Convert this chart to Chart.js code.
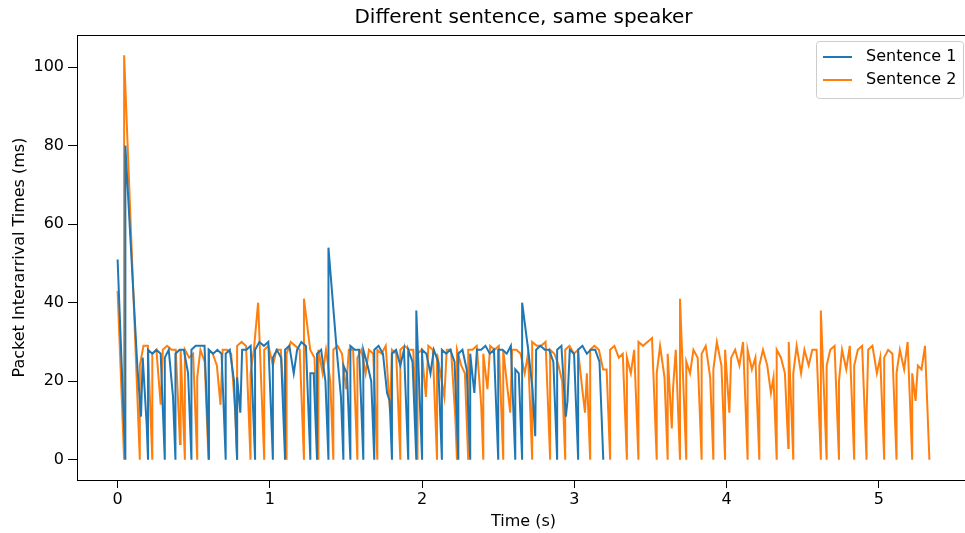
<!DOCTYPE html>
<html>
<head>
<meta charset="utf-8">
<script src="https://cdn.jsdelivr.net/npm/chart.js@4.4.1/dist/chart.umd.min.js"></script>
<style>
  html, body { margin: 0; padding: 0; background: #fff; overflow: hidden; width: 965px; height: 533px; }
  #wrap { width: 975px; height: 533px; }
</style>
</head>
<body>
<div id="wrap"><canvas id="chart" width="975" height="533"></canvas></div>
<script>
// --- textos ---
const chartTitle = 'Different sentence, same speaker';
const xAxisLabel = 'Time (s)';
const yAxisLabel = 'Packet Interarrival Times (ms)';
const seriesNames = ['Sentence 1', 'Sentence 2'];
const seriesColors = ['#1f77b4', '#ff7f0e'];

// --- ticks ---
const xTicks = [0, 1, 2, 3, 4, 5];
const yTicks = [0, 20, 40, 60, 80, 100];

// --- interarrival times (ms), one per packet ---
const sentence1 = [
  51, 0, 80,
  23, 11, 26, 9, 0,
  28, 27, 28, 27, 0,
  26, 28, 16, 0,
  27, 28, 28, 22, 0,
  28, 29, 29, 29, 0,
  28, 27, 28, 27, 0,
  27, 28, 20, 0,
  21, 12, 28, 28, 29, 0,
  28, 30, 29, 30, 0,
  26, 28, 26, 0,
  28, 29, 22, 28, 30, 29, 0,
  22, 22, 0,
  27, 28, 20, 0,
  54, 28, 16, 0,
  24, 22, 0,
  29, 28, 28, 0,
  28, 24, 20, 0,
  28, 29, 27, 17, 15, 0,
  27, 28, 24, 28, 0,
  28, 25, 0,
  38, 0,
  28, 27, 22, 28, 25, 0,
  28, 27, 28, 25, 0,
  27, 28, 23, 0,
  27, 17, 28, 28, 29, 27, 28, 0,
  28, 28, 27, 29, 0,
  23, 22, 0,
  40, 28, 18, 6, 28, 29, 28, 28, 25, 0,
  28, 29, 11, 15, 28, 27, 0,
  28, 29, 27, 28, 28, 25, 0
];

const sentence2 = [
  43, 0, 103, 0,
  24, 29, 29, 0,
  27, 28, 14, 28, 29, 28, 28, 4, 28, 0,
  28, 26, 27, 0,
  21, 28, 25, 0,
  28, 27, 24, 14, 28, 28, 27, 12, 0,
  29, 30, 29, 0,
  22, 28, 40, 0,
  28, 29, 24, 28, 28, 10, 0,
  27, 30, 29, 28, 0,
  41, 28, 26, 0,
  28, 22, 28, 20, 0,
  28, 29, 27, 18, 28, 28, 0,
  26, 28, 22, 28, 27, 0,
  28, 27, 29, 12, 28, 27, 0,
  28, 29, 28, 28, 0,
  27, 28, 16, 29, 28, 0,
  27, 21, 16, 28, 28, 11, 0,
  28, 24, 22, 0,
  28, 28, 29, 14, 0,
  27, 18, 29, 28, 29, 0,
  28, 18, 12, 28, 28, 27, 22, 27, 0,
  30, 29, 29, 30, 0,
  28, 27, 24, 20, 0,
  28, 29, 27, 28, 18, 12, 22, 0,
  28, 29, 28, 23, 23, 0,
  28, 29, 26, 27, 0,
  26, 22, 28, 0,
  30, 29, 30, 31, 0,
  22, 29, 21, 0,
  27, 8, 18, 28, 0,
  41, 0,
  25, 22, 28, 26, 0,
  27, 29, 21, 0,
  23, 30, 24, 0,
  28, 12, 26, 28, 24, 30, 0,
  28, 23, 26, 0,
  24, 28, 24, 17, 21, 0,
  28, 26, 22, 3, 30, 0,
  22, 29, 22, 28, 24, 28, 28, 0,
  38, 0,
  24, 28, 29, 0,
  20, 28, 23, 29, 0,
  24, 28, 29, 0,
  11, 28, 29, 22, 26, 0,
  26, 28, 27, 0,
  22, 28, 23, 30, 0,
  22, 15, 24, 23, 29, 0
];

// cada paquete se dibuja en su tiempo de llegada (suma de los intervalos anteriores)
function toPoints(gaps) {
  let t = 0;
  return gaps.map(g => {
    const p = { x: t / 1000, y: g };
    t += g;
    return p;
  });
}

const series = [sentence1, sentence2].map(toPoints);

// limites con 5% de margen, como matplotlib
const allX = series.flat().map(p => p.x);
const allY = series.flat().map(p => p.y);
const xMin = Math.min(...allX), xMax = Math.max(...allX);
const yMin = Math.min(...allY), yMax = Math.max(...allY);
const xPad = (xMax - xMin) * 0.05, yPad = (yMax - yMin) * 0.05;

const FONT = "'DejaVu Sans', sans-serif";

// marco, titulo y leyenda dentro del area
const mplDecor = {
  id: 'mplDecor',
  afterDatasetsDraw(chart) {
    const { ctx, chartArea: a } = chart;
    ctx.save();
    ctx.strokeStyle = '#000';
    ctx.lineWidth = 1;
    ctx.strokeRect(a.left + 0.5, a.top + 0.5, a.right - a.left - 1, a.bottom - a.top);

    // titulo
    ctx.fillStyle = '#000';
    ctx.font = '20px ' + FONT;
    ctx.textAlign = 'center';
    ctx.textBaseline = 'middle';
    ctx.fillText(chartTitle, (a.left + a.right) / 2, 18);

    // leyenda
    const w = 147, h = 57;
    const lx = a.right - 7 - w, ly = a.top + 6;
    ctx.beginPath();
    ctx.roundRect(lx + 0.5, ly + 0.5, w, h, 3);
    ctx.fillStyle = 'rgba(255,255,255,0.8)';
    ctx.fill();
    ctx.strokeStyle = '#cccccc';
    ctx.lineWidth = 1;
    ctx.stroke();
    ctx.font = '16px ' + FONT;
    ctx.textAlign = 'left';
    seriesNames.forEach((name, i) => {
      const y = ly + 16 + i * 23;
      ctx.strokeStyle = seriesColors[i];
      ctx.lineWidth = 2;
      ctx.beginPath();
      ctx.moveTo(lx + 7, y);
      ctx.lineTo(lx + 36, y);
      ctx.stroke();
      ctx.fillStyle = '#000';
      ctx.fillText(name, lx + 50, y);
    });
    ctx.restore();
  }
};

new Chart(document.getElementById('chart'), {
  type: 'line',
  data: {
    datasets: series.map((pts, i) => ({
      label: seriesNames[i],
      data: pts,
      borderColor: seriesColors[i],
      backgroundColor: seriesColors[i],
      borderWidth: 2,
      pointRadius: 0,
      tension: 0,
      fill: false
    }))
  },
  options: {
    responsive: false,
    animation: false,
    parsing: false,
    layout: { padding: { top: 35, right: 5, left: 0, bottom: 0 } },
    plugins: {
      legend: { display: false },
      title: { display: false },
      tooltip: { enabled: false }
    },
    scales: {
      x: {
        type: 'linear',
        min: xMin - xPad,
        max: xMax + xPad,
        afterBuildTicks: s => { s.ticks = xTicks.map(v => ({ value: v })); },
        afterFit: s => { s.height = 53; },
        grid: { drawOnChartArea: false, drawTicks: true, tickLength: 8, color: '#000' },
        border: { display: false },
        ticks: { color: '#000', font: { family: FONT, size: 16 }, padding: 2, maxRotation: 0, autoSkip: false },
        title: { display: true, text: xAxisLabel, color: '#000', font: { family: FONT, size: 16 }, padding: { bottom: 2 } }
      },
      y: {
        type: 'linear',
        min: yMin - yPad,
        max: yMax + yPad,
        afterBuildTicks: s => { s.ticks = yTicks.map(v => ({ value: v })); },
        afterFit: s => { s.width = 77; },
        grid: { drawOnChartArea: false, drawTicks: true, tickLength: 9, color: '#000' },
        border: { display: false },
        ticks: { color: '#000', font: { family: FONT, size: 16 }, padding: 4, autoSkip: false },
        title: { display: true, text: yAxisLabel, color: '#000', font: { family: FONT, size: 16 }, padding: { top: 10 } }
      }
    }
  },
  plugins: [mplDecor]
});
</script>
</body>
</html>
